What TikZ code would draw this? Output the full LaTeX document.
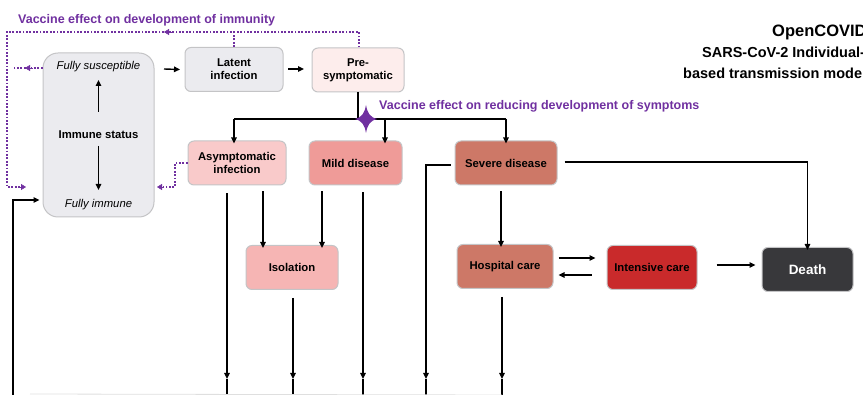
\documentclass[tikz,border=0pt]{standalone}
\usepackage{fontspec}
\setmainfont{Liberation Sans}
\usetikzlibrary{arrows.meta,decorations.markings,calc}
\definecolor{vpurple}{HTML}{7030A0}
\definecolor{boxline}{HTML}{C4C4C6}
\definecolor{cgray}{HTML}{EBEBEF}
\definecolor{cpre}{HTML}{FDEDEC}
\definecolor{casym}{HTML}{F9CACA}
\definecolor{cmild}{HTML}{EF9B98}
\definecolor{ciso}{HTML}{F6B5B4}
\definecolor{csev}{HTML}{CD7867}
\definecolor{cicu}{HTML}{C92A2B}
\definecolor{cdeath}{HTML}{38383B}
\begin{document}
\begin{tikzpicture}[x=1pt,y=-1pt,
  box/.style={draw=boxline, line width=1pt, rounded corners=6pt, align=center,
    font=\bfseries\fontsize{11.3}{13}\selectfont, inner sep=0pt, minimum height=44pt},
  arr/.style={line width=1.4pt, -{Triangle[length=6pt,width=5.5pt]}},
  ln/.style={line width=1.4pt},
  vdot/.style={vpurple, line width=1.7pt, dash pattern=on 1.7pt off 1.7pt},
  varr/.style={vpurple, -{Triangle[length=5pt,width=6pt]}},
  ptext/.style={text=vpurple, font=\bfseries\fontsize{12.5}{14}\selectfont, inner sep=0pt},
  itext/.style={font=\itshape\fontsize{11.3}{13}\selectfont, inner sep=0pt},
  ttext/.style={font=\bfseries\fontsize{14.5}{16}\selectfont, inner sep=0pt, anchor=west}
]
\useasboundingbox (0,0) rectangle (863,395);
\clip (0,0) rectangle (863,395);

% titles
\node[ptext, anchor=west] (t1) at (18,20) {Vaccine effect on development of immunity};
\node[ptext, anchor=west] (t2) at (379,106) {Vaccine effect on reducing development of symptoms};
\node[ttext, font=\bfseries\fontsize{16.5}{18}\selectfont] (h1) at (772,32) {OpenCOVID};
\node[ttext] (h2) at (702,52.5) {SARS-CoV-2 Individual-};
\node[ttext] (h3) at (683,73) {based transmission model};

% immune status box
\node[box, fill=cgray, minimum width=111pt, minimum height=164pt, rounded corners=15pt] (imm) at (98.5,135) {};
\node[itext] (fs) at (98.5,67) {Fully susceptible};
\node[font=\bfseries\fontsize{11.3}{13}\selectfont, inner sep=0pt] (ist) at (98.5,135) {Immune status};
\node[itext] (fi) at (98.5,205) {Fully immune};
\draw[arr] (98.5,112) -- (98.5,80);
\draw[arr] (98.5,146) -- (98.5,190);

% boxes
\node[box, fill=cgray, minimum width=98pt] (lat) at (234,69.5) {Latent\\infection};
\node[box, fill=cpre, minimum width=92pt] (pre) at (358,70) {Pre-\\symptomatic};
\node[box, fill=casym, minimum width=98pt] (asym) at (237,163) {Asymptomatic\\infection};
\node[box, fill=cmild, minimum width=93pt] (mild) at (355.5,163) {Mild disease};
\node[box, fill=csev, minimum width=102pt] (sev) at (506,163) {Severe disease};
\node[box, fill=ciso, minimum width=92pt] (iso) at (292,267.5) {Isolation};
\node[box, fill=csev, minimum width=96pt] (hosp) at (505,266.5) {Hospital care};
\node[box, fill=cicu, minimum width=90pt] (icu) at (652,267.5) {Intensive care};
\node[box, fill=cdeath, minimum width=91pt, text=white, font=\bfseries\fontsize{13.5}{15}\selectfont] (death) at (807.5,269.5) {Death};

% top row arrows
\draw[arr] (164,69) -- (lat.west -| 180,0);
\draw[arr] (288,69) -- (304,69);

% branching
\coordinate (j) at (358,119);
\coordinate (bA) at (234,119);
\coordinate (bM) at (385,119);
\coordinate (bS) at (506,119);
\draw[ln] (pre.south) -- (j);
\draw[ln] (bA) -- (bS);
\draw[arr] (bA) -- ([yshift=-3pt]bA |- asym.north);
\draw[arr] (bM) -- ([yshift=-3pt]bM |- mild.north);
\draw[arr] (bS) -- ([yshift=-3pt]bS |- sev.north);
\fill[vpurple] (366,105) .. controls (367.5,113.5) and (370,117) .. (377,119)
  .. controls (370,121) and (367.5,124.5) .. (366,133)
  .. controls (364.5,124.5) and (362,121) .. (355,119)
  .. controls (362,117) and (364.5,113.5) .. (366,105) -- cycle;

% bottom coordinates
\foreach \n/\x in {a/227,b/293,c/363,d/426,e/502}{
  \coordinate (end\n) at (\x,379);
  \coordinate (bot\n) at (\x,395);
}
\draw[arr] ([yshift=-8pt]asym.south -| enda) -- (enda);
\draw[arr] ([yshift=-6pt]asym.south -| 263,0) -- ([yshift=-3pt]iso.north -| 263,0);
\draw[arr] ([yshift=-6pt]mild.south -| 322,0) -- ([yshift=-3pt]iso.north -| 322,0);
\draw[arr] ([yshift=-7pt]mild.south -| endc) -- (endc);
\draw[arr] ([yshift=-8pt]iso.south -| endb) -- (endb);
\draw[arr] ([xshift=-4pt]sev.west |- 0,165) -| (endd);
\draw[arr] ([yshift=-6pt]sev.south -| 501,0) -- ([yshift=-3pt]hosp.north -| 501,0);
\draw[arr] ([xshift=7pt]sev.east |- 0,162) -| ([yshift=-3pt]death.north);
\draw[arr] ([yshift=-8pt]hosp.south -| ende) -- (ende);
\foreach \n in {a,b,c,d,e}{ \draw[ln] (end\n) -- (bot\n); }
\draw[arr] ([xshift=5pt]hosp.east |- 0,258) -- ([xshift=-11pt]icu.west |- 0,258);
\draw[arr] ([xshift=-15pt]icu.west |- 0,275) -- ([xshift=5pt]hosp.east |- 0,275);
\draw[arr] ([xshift=19pt]icu.east |- 0,265) -- ([xshift=-6pt]death.west |- 0,265);

% bottom-left return
\coordinate (bl) at (13,395);
\draw[arr] (bl) |- ([xshift=-3pt]imm.west |- 0,200);
\draw[gray!25, line width=0.8pt] (30,394) -- (bote);

% purple dotted
\coordinate (tl) at (7,32);
\coordinate (tr) at (359,32);
\coordinate (tm) at (234,32);
\draw[vdot] (pre.north -| tr) -- (tr) -- (tl) -- (7,187) -- (22,187);
\draw[varr] (20,187) -- (26,187);
\draw[vdot] (lat.north -| tm) -- (tm);
\draw[varr] (172,32) -- (164,32);
\draw[vdot] (imm.west |- 0,68) -- (13,68);
\draw[varr] (33,68) -- (25,68);
\draw[vdot] (asym.west |- 0,163) -- (175,163) -- (175,187) -- (163,187);
\draw[varr] (163,187) -- (157,187);
\end{tikzpicture}
\end{document}
